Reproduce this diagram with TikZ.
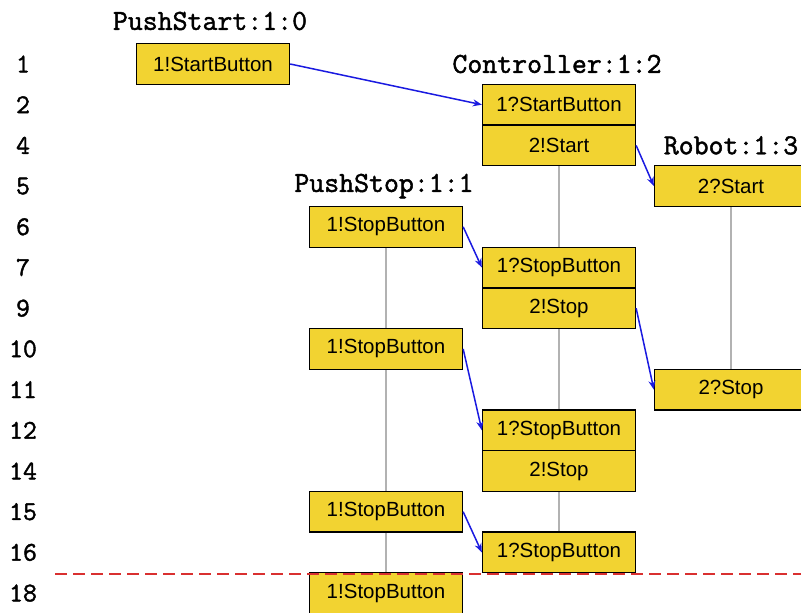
\documentclass[tikz,border=0pt]{standalone}
\usepackage{fontspec}
\setmainfont{Liberation Sans}
\newfontfamily\monob{Latin Modern Mono}[FakeBold=1.6]
\usetikzlibrary{arrows.meta,backgrounds}
\definecolor{evfill}{HTML}{F2D331}
\definecolor{msgblue}{HTML}{1A1AE0}
\definecolor{cutred}{HTML}{D93030}
\tikzset{
  x=1pt, y=1pt,
  event/.style={draw=black, line width=1.3pt, fill=evfill, minimum width=153pt,
    minimum height=40.7pt, inner sep=0pt, font=\fontsize{20.5}{24}\selectfont},
  procname/.style={font=\monob\fontsize{29}{32}\selectfont, inner sep=0pt},
  rownum/.style={font=\monob\fontsize{27}{30}\selectfont, inner sep=0pt},
  lifeline/.style={draw=black!30, line width=1.2pt},
  msg/.style={draw=msgblue, line width=1.5pt, -{Stealth[length=9pt,width=7pt]}},
  cut/.style={draw=cutred, line width=1.6pt, dash pattern=on 12pt off 6pt}
}
\begin{document}
\begin{tikzpicture}
\useasboundingbox (0,0) rectangle (801,-613);

% row numbers
\node[rownum] (r1)  at (23,-64)    {1};
\node[rownum] (r2)  at (23,-104.7) {2};
\node[rownum] (r4)  at (23,-145.4) {4};
\node[rownum] (r5)  at (23,-186.1) {5};
\node[rownum] (r6)  at (23,-226.8) {6};
\node[rownum] (r7)  at (23,-267.5) {7};
\node[rownum] (r9)  at (23,-308.2) {9};
\node[rownum] (r10) at (23,-348.9) {10};
\node[rownum] (r11) at (23,-389.6) {11};
\node[rownum] (r12) at (23,-430.3) {12};
\node[rownum] (r14) at (23,-471)   {14};
\node[rownum] (r15) at (23,-511.7) {15};
\node[rownum] (r16) at (23,-552.4) {16};
\node[rownum] (r18) at (23,-593.1) {18};

% process headers
\node[procname] (hPS)   at (210,-21)    {PushStart:1:0};
\node[procname] (hCtl)  at (557,-64)    {Controller:1:2};
\node[procname] (hRob)  at (731,-145.4) {Robot:1:3};
\node[procname] (hStop) at (384,-186.1) {PushStop:1:1};

% PushStart
\node[event] (ps1) at (213,-64) {1!StartButton};

% Controller
\node[event] (c1) at (559,-104.7) {1?StartButton};
\node[event] (c2) at (559,-145.4) {2!Start};
\node[event] (c3) at (559,-267.5) {1?StopButton};
\node[event] (c4) at (559,-308.2) {2!Stop};
\node[event] (c5) at (559,-430.3) {1?StopButton};
\node[event] (c6) at (559,-471)   {2!Stop};
\node[event] (c7) at (559,-552.4) {1?StopButton};

% Robot
\node[event] (rb1) at (731,-186.1) {2?Start};
\node[event] (rb2) at (731,-389.6) {2?Stop};

% PushStop
\node[event] (st1) at (386,-226.8) {1!StopButton};
\node[event] (st2) at (386,-348.9) {1!StopButton};
\node[event] (st3) at (386,-511.7) {1!StopButton};
\node[event] (st4) at (386,-593.1) {1!StopButton};

% lifelines behind the events
\begin{scope}[on background layer]
  \draw[lifeline] (c2.south) -- (c7.north);
  \draw[lifeline] (rb1.south) -- (rb2.north);
  \draw[lifeline] (st1.south) -- (st4.north);
\end{scope}

% messages
\draw[msg] (ps1.east) -- (c1.west);
\draw[msg] (c2.east)  -- (rb1.west);
\draw[msg] (st1.east) -- (c3.west);
\draw[msg] (c4.east)  -- (rb2.west);
\draw[msg] (st2.east) -- (c5.west);
\draw[msg] (st3.east) -- (c7.west);

% cut line
\coordinate (cutL) at (55,-574);
\coordinate (cutR) at (801,-574);
\draw[cut] (cutL) -- (cutR);
\end{tikzpicture}
\end{document}
